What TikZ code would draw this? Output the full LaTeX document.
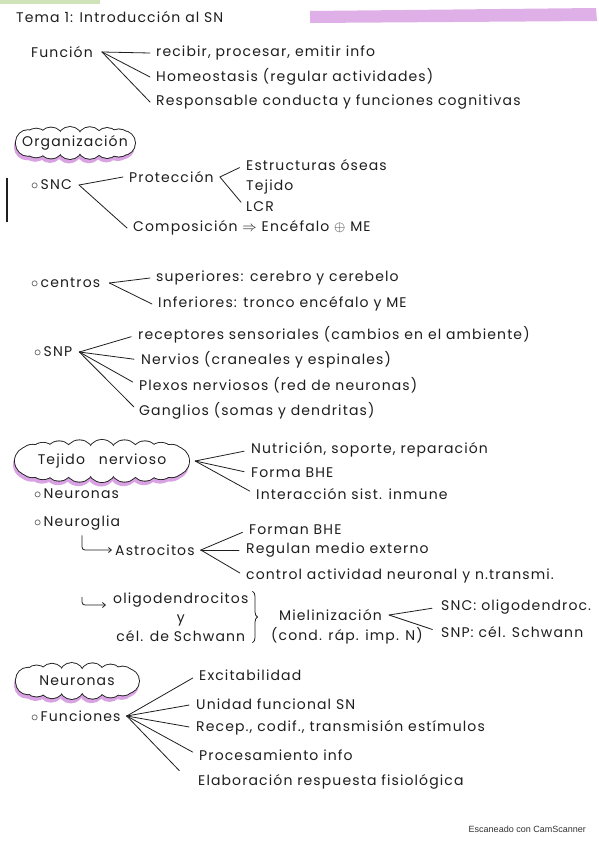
\documentclass[tikz,border=0pt]{standalone}
\usepackage{fontspec}
\setmainfont{Poppins}[LetterSpace=8]
\newfontfamily\scanfont{Liberation Sans}
\usetikzlibrary{decorations.pathreplacing,arrows.meta,positioning}
\definecolor{inkgray}{HTML}{1E1E1E}
\definecolor{hlpurple}{HTML}{D9A3E3}
\definecolor{hlgreen}{HTML}{CFE2B8}
\definecolor{scangray}{HTML}{333333}
\newcommand{\bul}{$\circ$\,}
% cloud outline: centre x, centre y, x radius, y radius, puff radius, angle step
\newcommand{\cloudpuffs}[6]{%
  \foreach \a in {0,#6,...,359}{\fill[hlpurple] ({#1+#3*cos(\a)-1},{#2+#4*sin(\a)+3.5}) circle[radius=#5+1];}
  \foreach \a in {0,#6,...,359}{\draw[inkgray,line width=1.8pt] ({#1+#3*cos(\a)},{#2+#4*sin(\a)}) circle[radius=#5];}
  \foreach \a in {0,#6,...,359}{\fill[white] ({#1+#3*cos(\a)},{#2+#4*sin(\a)}) circle[radius=#5];}
  \fill[white] (#1,#2) ellipse[x radius=#3,y radius=#4];
}

\tikzset{
  note/.style={anchor=west,inner sep=1pt,text=inkgray,font=\fontsize{14}{19}\selectfont},
  fan/.style={draw=inkgray,line width=0.8pt,line cap=round},
  topic/.style={inner sep=0pt,text=inkgray,font=\fontsize{14}{15}\selectfont},
  hookarrow/.style={draw=inkgray,line width=0.8pt,rounded corners=3pt,-{Straight Barb[length=3pt,width=5pt]}},
}

\begin{document}
\begin{tikzpicture}[x=1pt,y=-1pt]
  \useasboundingbox[fill=white] (0,0) rectangle (599,848);
  % scan marks
  \fill[hlgreen] (0,0) rectangle (100,4);
  \draw[inkgray,line width=1.5pt] (7,178) -- (7,222);
  \fill[hlpurple,opacity=0.85] (310,11) -- (596,8) -- (597,21) -- (310,23) -- cycle;

  \node[note,font=\fontsize{14}{16}\selectfont] (title) at (15,17) {Tema 1: Introducción al SN};

  % funcion
  \node[note] (fun) at (30,52) {Función};
  \node[note] (fun1) at (155,53) {recibir, procesar, emitir info};
  \node[note] (fun2) at (155,77) {Homeostasis (regular actividades)};
  \node[note] (fun3) at (155,102) {Responsable conducta y funciones cognitivas};
  \foreach \c in {fun1,fun2,fun3}{\draw[fan] ([xshift=8pt]fun.east) -- ([xshift=-5pt]\c.west);}

  % organizacion
  \cloudpuffs{75}{143}{48}{4}{12}{24}
  \node[topic,minimum width=120pt] (org) at (75,143) {Organización};
  \node[note] (snc) at (30,185) {\bul SNC};
  \node[note] (prot) at (128,177) {Protección};
  \node[note] (comp) at (132,228) {Composición $\Rightarrow$ Encéfalo $\oplus$ ME};
  \foreach \c in {prot,comp}{\draw[fan] ([xshift=6pt]snc.east) -- ([xshift=-5pt]\c.west);}
  \node[note] (p1) at (245,165) {Estructuras óseas};
  \node[note] (p2) at (245,187) {Tejido};
  \node[note] (p3) at (245,207) {LCR};
  \foreach \c in {p1,p3}{\draw[fan,shorten >=6pt] ([xshift=5pt]prot.east) -- (\c.west);}

  \node[note] (cen) at (30,283) {\bul centros};
  \node[note] (sup) at (155,278) {superiores: cerebro y cerebelo};
  \node[note] (inf) at (157,304) {Inferiores: tronco encéfalo y ME};
  \foreach \c in {sup,inf}{\draw[fan] ([xshift=8pt]cen.east) -- ([xshift=-5pt]\c.west);}

  \node[note] (snp) at (33,352) {\bul SNP};
  \node[note] (snp1) at (137,335) {receptores sensoriales (cambios en el ambiente)};
  \node[note] (snp2) at (140,360) {Nervios (craneales y espinales)};
  \node[note] (snp3) at (138,385) {Plexos nerviosos (red de neuronas)};
  \node[note] (snp4) at (138,411) {Ganglios (somas y dendritas)};
  \foreach \c in {snp1,snp2,snp3,snp4}{\draw[fan,shorten >=6pt] ([xshift=6pt]snp.east) -- (\c.west);}

  % tejido nervioso
  \cloudpuffs{102}{461}{73}{7}{14}{18}
  \node[topic,minimum width=174pt] (tej) at (102,461) {Tejido\hspace{1em}nervioso};
  \node[note] (t1) at (250,450) {Nutrición, soporte, reparación};
  \node[note] (t2) at (250,473) {Forma BHE};
  \node[note] (t3) at (255,494) {Interacción sist. inmune};
  \foreach \c in {t1,t2,t3}{\draw[fan,shorten >=6pt] ([xshift=6pt]tej.east) -- (\c.west);}
  \node[note] (neur) at (33,494) {\bul Neuronas};
  \node[note] (glia) at (33,523) {\bul Neuroglia};

  \node[note] (astro) at (114,550) {Astrocitos};
  \draw[hookarrow] ([xshift=49pt,yshift=-4pt]glia.south west) |- ([xshift=-2pt]astro.west);
  \node[note] (a1) at (248,530) {Forman BHE};
  \node[note] (a2) at (245,550) {Regulan medio externo};
  \node[note] (a3) at (245,576) {control actividad neuronal y n.transmi.};
  \foreach \c in {a1,a2,a3}{\draw[fan,shorten >=6pt] ([xshift=5pt]astro.east) -- (\c.west);}

  \node[note,align=center] (oli) at (112,617) {oligodendrocitos\\y\\cél. de Schwann};
  \coordinate (h2) at (82,597);
  \coordinate (h2end) at (106,605);
  \draw[hookarrow] (h2) |- (h2end);
  \draw[fan,decorate,decoration={brace,amplitude=5pt}] ([xshift=3pt]oli.north east) -- ([xshift=3pt]oli.south east);
  \node[note] (mie) at (278,615) {Mielinización};
  \node[note] (cond) at (270,636) {(cond. ráp. imp. N)};
  \node[note] (s1) at (440,607) {SNC: oligodendroc.};
  \node[note] (s2) at (440,632) {SNP: cél. Schwann};
  \foreach \c in {s1,s2}{\draw[fan,shorten >=8pt] ([xshift=6pt]mie.east) -- (\c.west);}

  % neuronas
  \cloudpuffs{77}{681}{50}{6}{12}{24}
  \node[topic,minimum width=125pt] (neu) at (77,681) {Neuronas};
  \node[note] (func) at (30,716) {\bul Funciones};
  \node[note] (e1) at (198,675) {Excitabilidad};
  \node[note] (e2) at (195,704) {Unidad funcional SN};
  \node[note] (e3) at (195,728) {Recep., codif., transmisión estímulos};
  \node[note] (e4) at (198,755) {Procesamiento info};
  \node[note] (e5) at (197,782) {Elaboración respuesta fisiológica};
  \foreach \c in {e1,e2,e3,e4}{\draw[fan,shorten >=6pt] ([xshift=5pt]func.east) -- (\c.west);}
  \draw[fan,shorten >=4pt] ([xshift=5pt]func.east) -- ([xshift=-15pt]e5.north west);

  \node[anchor=east,inner sep=0pt,font=\scanfont\fontsize{9}{10}\selectfont,text=scangray] (scan) at (586,829) {Escaneado con CamScanner};
\end{tikzpicture}
\end{document}
